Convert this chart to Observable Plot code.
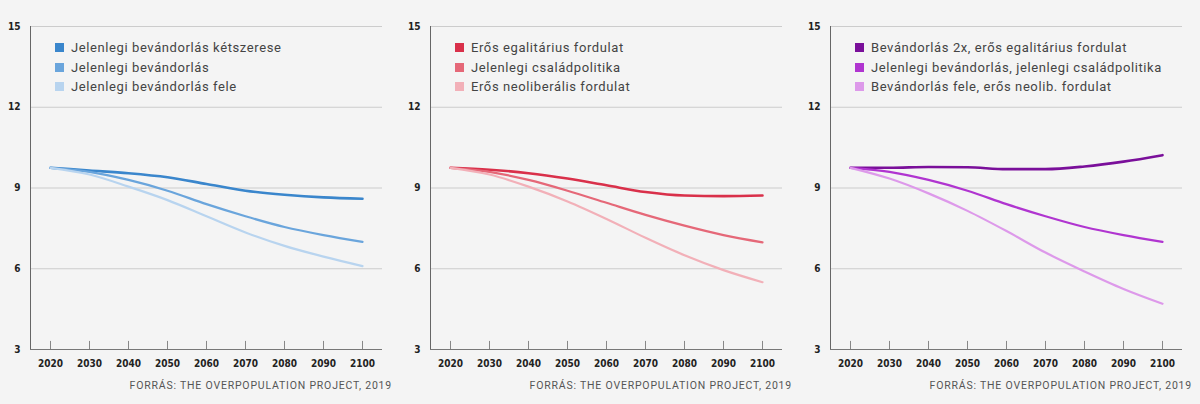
<!DOCTYPE html>
<html><head><meta charset="utf-8">
<script src="https://cdn.jsdelivr.net/npm/d3@7"></script>
<script src="https://cdn.jsdelivr.net/npm/@observablehq/plot@0.6"></script>
<style>
body{margin:0;background:#f4f4f4;font-family:Roboto,sans-serif}
#wrap{display:flex;width:1200px}
.panel{position:relative;width:400px;height:404px}
.legend{position:absolute;left:55px;top:38px;font-size:13px;letter-spacing:0.6px;color:#444;line-height:19.5px}
.legend span{display:inline-block;width:9px;height:9px;margin-right:7px;vertical-align:-0px}
.src{position:absolute;right:8px;top:379px;font-size:10.5px;letter-spacing:0.8px;color:#555}
</style></head><body><div id="wrap"></div>
<script>
const years=[2020,2030,2040,2050,2060,2070,2080,2090,2100];
const yTicks=[3,6,9,12,15];
const labels1=["Jelenlegi bevándorlás kétszerese","Jelenlegi bevándorlás","Jelenlegi bevándorlás fele"];
const labels2=["Erős egalitárius fordulat","Jelenlegi családpolitika","Erős neoliberális fordulat"];
const labels3=["Bevándorlás 2x, erős egalitárius fordulat","Jelenlegi bevándorlás, jelenlegi családpolitika","Bevándorlás fele, erős neolib. fordulat"];
const p1a=[9.75,9.65,9.55,9.4,9.15,8.9,8.75,8.65,8.6];
const p1b=[9.75,9.6,9.3,8.9,8.4,7.95,7.55,7.25,7.0];
const p1c=[9.75,9.5,9.05,8.55,7.95,7.35,6.85,6.45,6.1];
const p2a=[9.75,9.68,9.55,9.35,9.1,8.85,8.72,8.7,8.72];
const p2b=[9.75,9.6,9.3,8.9,8.45,8.0,7.6,7.25,6.98];
const p2c=[9.75,9.5,9.05,8.5,7.85,7.15,6.5,5.95,5.5];
const p3a=[9.75,9.75,9.78,9.77,9.7,9.7,9.8,9.98,10.22];
const p3b=[9.75,9.6,9.3,8.9,8.4,7.95,7.55,7.25,7.0];
const p3c=[9.75,9.35,8.8,8.15,7.4,6.6,5.9,5.25,4.7];
const colors1=["#3a86cc","#6aa5dc","#b8d4ef"];
const colors2=["#d9304a","#e56878","#f2b0b8"];
const colors3=["#7a0f9a","#b035d0","#dd99ea"];
const source="FORRÁS: THE OVERPOPULATION PROJECT, 2019";
const panels=[[labels1,[p1a,p1b,p1c],colors1],[labels2,[p2a,p2b,p2c],colors2],[labels3,[p3a,p3b,p3c],colors3]];
const wrap=document.getElementById("wrap");
for(const [labels,series,colors] of panels){
  const div=document.createElement("div");div.className="panel";
  const marks=[
    Plot.gridY([6,9,12,15],{stroke:"#ccc",strokeOpacity:1,strokeWidth:1}),
    Plot.ruleX([2020],{dx:-20,y1:3,y2:15,stroke:"#666"}),
    Plot.ruleY([3],{stroke:"#777"}),
    Plot.ruleX(years,{x:d=>d,y1:3,y2:3.3,stroke:"#888"}),
  ];
  series.forEach((s,i)=>{
    marks.push(Plot.line(years.map((y,j)=>({x:y,v:s[j]})),{x:"x",y:"v",stroke:colors[i],strokeWidth:i==0?2.6:2.2,curve:"monotone-x"}));
  });
  const svg=Plot.plot({width:400,height:375,marginLeft:30,marginRight:18,marginTop:26,marginBottom:26,
    insetLeft:20,insetRight:20,
    style:{background:"#f4f4f4",fontFamily:"'Liberation Sans Narrow','DejaVu Sans Condensed',sans-serif",fontSize:"10px",fontWeight:"bold",color:"#222"},
    x:{domain:[2020,2100],ticks:years,tickFormat:d=>String(d),tickSize:0,tickPadding:10,label:null},
    y:{domain:[3,15],ticks:yTicks,tickSize:0,tickPadding:10,label:null},
    marks});
  div.appendChild(svg);
  const lg=document.createElement("div");lg.className="legend";
  lg.innerHTML=labels.map((l,i)=>`<div><span style="background:${colors[i]}"></span>${l}</div>`).join("");
  div.appendChild(lg);
  const src=document.createElement("div");src.className="src";src.textContent=source;div.appendChild(src);
  wrap.appendChild(div);
}
</script></body></html>
